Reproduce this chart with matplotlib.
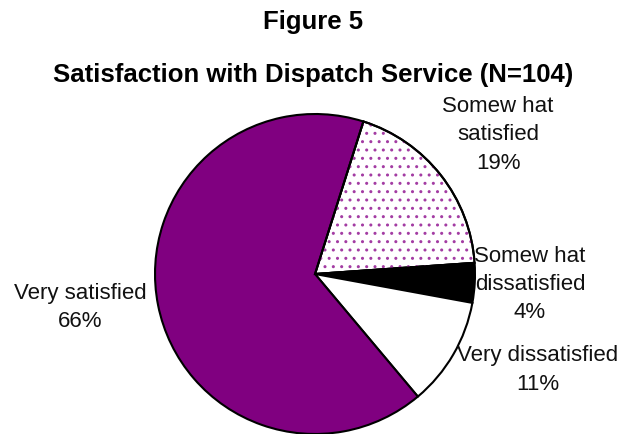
import matplotlib
matplotlib.use("Agg")
import matplotlib.pyplot as plt
from matplotlib.patches import Wedge

plt.rcParams["font.family"] = ["Liberation Sans", "DejaVu Sans"]

# Data
CATEGORIES = ["Somew hat\nsatisfied", "Somew hat\ndissatisfied",
              "Very dissatisfied", "Very satisfied"]
PERCENTS = [19, 4, 11, 66]

PURPLE = "#800080"
DOT = "#a33ca3"
FACE = ["white", "black", "white", PURPLE]

fig = plt.figure(figsize=(6.26, 4.34), dpi=100)
ax = fig.add_axes([0.2476, 0.0, 0.5112, 0.7373])

wedges, _ = ax.pie(
    PERCENTS,
    colors=FACE,
    startangle=72.4,
    counterclock=False,
    radius=1.0,
    wedgeprops=dict(edgecolor="black", linewidth=1.5),
)

# dotted fill for "Somewhat satisfied": purple dots on white
w0 = wedges[0]
dots = Wedge(w0.center, w0.r, w0.theta1, w0.theta2, facecolor="none",
             edgecolor=DOT, linewidth=0, hatch="..", zorder=w0.get_zorder() + 0.1)
ax.add_patch(dots)
outline = Wedge(w0.center, w0.r, w0.theta1, w0.theta2, fill=False,
                edgecolor="black", linewidth=1.5, zorder=w0.get_zorder() + 0.2)
ax.add_patch(outline)

ax.set_xlim(-1, 1)
ax.set_ylim(-1, 1)
ax.set_aspect("equal")
ax.axis("off")

# label positions in pie coordinates (radius = 1)
label_pos = [(1.144, 0.87), (1.344, -0.065), (1.39, -0.60), (-1.469, -0.21)]
for cat, pct, (lx, ly) in zip(CATEGORIES, PERCENTS, label_pos):
    ax.text(lx, ly, f"{cat}\n{pct}%", ha="center", va="center",
            fontsize=16, linespacing=1.45, color="#111111", clip_on=False)

fig.text(0.5, 1 - 22 / 434, "Figure 5", ha="center", va="center",
         fontsize=18.5, fontweight="bold")
fig.text(0.5, 1 - 75 / 434, "Satisfaction with Dispatch Service (N=104)",
         ha="center", va="center", fontsize=18.5, fontweight="bold")

fig.savefig("out.png", dpi=100)
